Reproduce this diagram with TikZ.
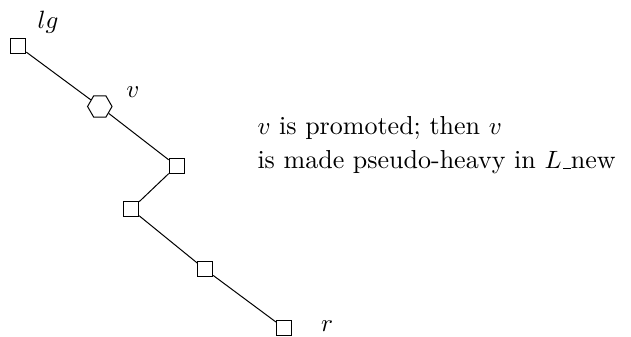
\documentclass[tikz,border=0pt]{standalone}
\usetikzlibrary{shapes.geometric}
\newcommand\myunderscore{\leavevmode\kern.06em\vbox{\hrule width.3em}}
\begin{document}
\begin{tikzpicture}[x=0.4pt,y=-0.4pt,
  sq/.style={draw,rectangle,minimum size=6pt,inner sep=0pt,line width=0.4pt},
  hex/.style={draw,regular polygon,regular polygon sides=6,minimum size=9.8pt,inner sep=0pt,line width=0.4pt},
  lbl/.style={inner sep=0pt},
  edge/.style={line width=0.4pt}]
\useasboundingbox (0,0) rectangle (631,337);
\node[sq] (lg) at (18.3,46.2) {};
\node[hex] (v) at (99.8,106.5) {};
\node[sq] (a) at (176.7,166) {};
\node[sq] (b) at (131.2,209.3) {};
\node[sq] (c) at (205.2,269.5) {};
\node[sq] (r) at (284,328) {};
\node[lbl] (lglbl) at (48,22) {$lg$};
\node[lbl] (vlbl) at (133,92) {$v$};
\node[lbl] (rlbl) at (327,326) {$r$};
\node[lbl,anchor=base west,align=left,font=\fontsize{10.4}{13.6}\selectfont] (txt) at (257,169)
  {$v$ is promoted; then $v$\\ is made pseudo-heavy in $L$\myunderscore new};
\draw[edge] (lg) -- (v);
\draw[edge] (v) -- (a);
\draw[edge] (a) -- (b);
\draw[edge] (b) -- (c);
\draw[edge] (c) -- (r);
\end{tikzpicture}
\end{document}
